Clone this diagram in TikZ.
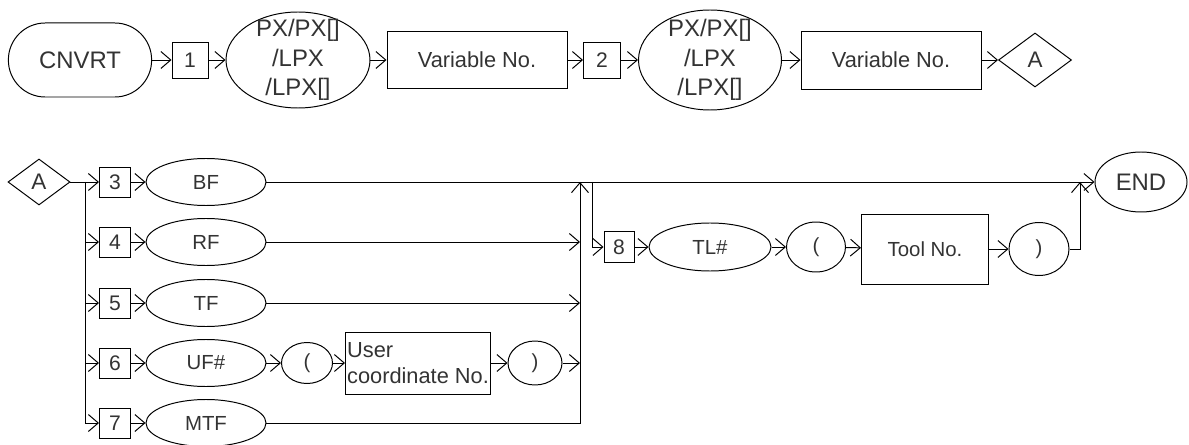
\documentclass[tikz,border=0pt]{standalone}
\usepackage{fontspec}
\setmainfont{Liberation Sans}
\usetikzlibrary{shapes.geometric,arrows.meta}

\begin{document}
\begin{tikzpicture}[x=0.025cm, y=-0.025cm, line width=0.7pt,
  arr/.style={-{Straight Barb[length=7pt,width=12pt]}},
  term/.style={draw, rectangle, rounded corners=0.92cm, inner sep=0pt, minimum width=3.58cm, minimum height=1.85cm, text=black!80, font=\fontsize{17}{21}\selectfont},
  numbox/.style={draw, rectangle, inner sep=0pt, minimum width=0.78cm, minimum height=0.76cm, text=black!80, font=\fontsize{15}{18}\selectfont},
  keyword/.style={draw, ellipse, inner sep=0pt, text=black!80, font=\fontsize{14.5}{18}\selectfont},
  item/.style={draw, rectangle, inner sep=1pt, text=black!80, font=\fontsize{15.5}{18.5}\selectfont},
  link/.style={draw, diamond, inner sep=0pt, text=black!80, font=\fontsize{16}{19}\selectfont}
]
\def\px{0.025cm}
\useasboundingbox (0,0) rectangle (1189,445);

% Top row
\node[term] (cnvrt) at (80,60) {CNVRT};
\node[numbox, minimum width=36*\px, minimum height=36*\px] (n1) at (190,60) {1};
\node[keyword, inner xsep=0pt, inner ysep=-6pt, align=center, font=\fontsize{17}{21}\selectfont,
  minimum width=144*\px, minimum height=96*\px] (px1) at (298,60) {PX/PX[]\\/LPX\\/LPX[]};
\node[item, minimum width=180*\px, minimum height=57*\px] (var1) at (477,60) {Variable No.};
\node[numbox, minimum width=37*\px, minimum height=36*\px] (n2) at (602,60) {2};
\node[keyword, inner xsep=0pt, inner ysep=-6pt, align=center, font=\fontsize{17}{21}\selectfont,
  minimum width=143*\px, minimum height=100*\px] (px2) at (710,60) {PX/PX[]\\/LPX\\/LPX[]};
\node[item, minimum width=180*\px, minimum height=58*\px] (var2) at (891,60) {Variable No.};
\node[link, minimum width=73*\px, minimum height=54*\px] (A1) at (1035,60) {A};

\foreach \a/\b in {cnvrt/n1, n1/px1, px1/var1, var1/n2, n2/px2, px2/var2, var2/A1}
  \draw[arr] (\a) -- (\b);

% Bottom rows
\node[link, minimum width=62*\px, minimum height=46*\px] (A2) at (39,182) {A};
\foreach \i/\y/\nm/\t in {3/182/bf/BF, 4/242/rf/RF, 5/303/tf/TF, 6/363/uf/UF\#, 7/423/mtf/MTF} {
  \node[numbox, minimum width=31*\px, minimum height=30*\px] (n\i) at (115,\y) {\i};
  \node[keyword, minimum width=120*\px, minimum height=47*\px] (\nm) at (206,\y) {\t};
  \draw[arr] (n\i) -- (\nm);
}

\node[keyword, minimum width=51*\px, minimum height=41*\px] (lp1) at (307,363) {(};
\node[item, align=left, minimum width=145*\px, minimum height=62*\px] (uc) at (418,363) {User\\coordinate No.};
\node[keyword, minimum width=54*\px, minimum height=44*\px] (rp1) at (535,363) {)};
\draw[arr] (uf) -- (lp1);
\draw[arr] (lp1) -- (uc);
\draw[arr] (uc) -- (rp1);

% Split after A
\coordinate (sp) at (85,182);
\draw[arr] (A2) -- (n3);
\draw[arr] (sp) |- (n7);
\foreach \i in {4,5,6}
  \draw[arr] (sp |- n\i) -- (n\i);

% Merge
\coordinate (mg) at (580,182);
\draw[arr] (mtf) -| (mg);
\foreach \n in {rf, tf, rp1}
  \draw[arr] (\n) -- (\n -| mg);

% Tool branch
\node[numbox, minimum width=30*\px, minimum height=31*\px] (n8) at (619,247) {8};
\node[keyword, minimum width=122*\px, minimum height=48*\px] (tl) at (710,247) {TL\#};
\node[keyword, minimum width=59*\px, minimum height=50*\px] (lp2) at (816,247) {(};
\node[item, minimum width=127*\px, minimum height=70*\px, font=\fontsize{14.5}{18}\selectfont] (tool) at (925,249) {Tool No.};
\node[keyword, minimum width=60*\px, minimum height=53*\px] (rp2) at (1039,249) {)};
\node[keyword, minimum width=92*\px, minimum height=60*\px, font=\fontsize{17}{21}\selectfont] (end) at (1141,182) {END};

\coordinate (sp8) at (592,182);
\coordinate (mg2) at (1080,182);
\draw[arr] (sp8) |- (n8);
\foreach \a/\b in {n8/tl, tl/lp2, lp2/tool, tool/rp2}
  \draw[arr] (\a) -- (\b);
\draw[arr] (rp2) -| (mg2);
\draw[arr] (bf) -- (end);

\end{tikzpicture}
\end{document}
